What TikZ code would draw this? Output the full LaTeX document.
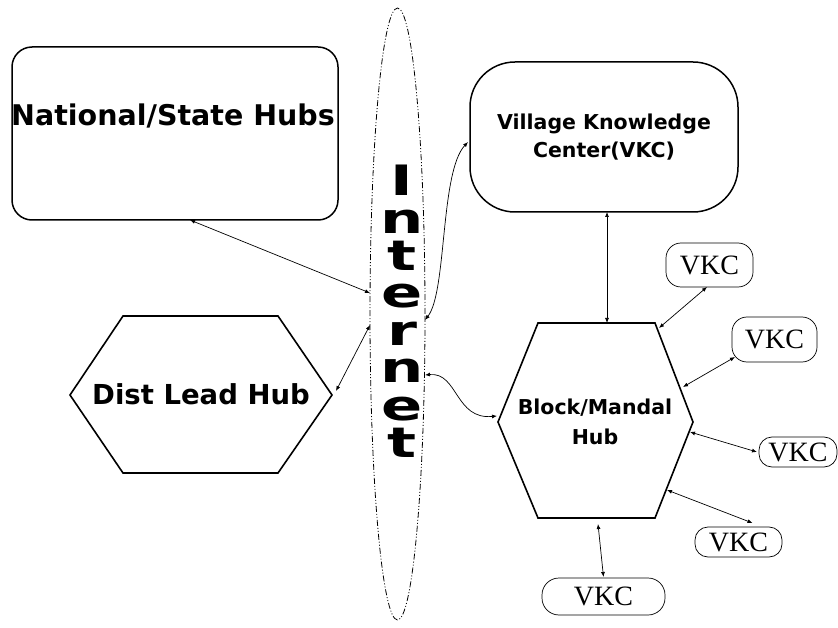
\documentclass[tikz,border=0pt]{standalone}
\usepackage{fontspec}
\usetikzlibrary{arrows.meta,shapes.geometric,calc}
\newfontfamily\hubfont{DejaVu Sans}
\newfontfamily\inetfont[FakeStretch=1.96]{DejaVu Sans}
\newfontfamily\vkcfont{Liberation Serif}
\begin{document}
\begin{tikzpicture}[x=1pt,y=-1pt,
  hubbox/.style={draw, line width=1.5pt, inner sep=0pt, outer sep=0pt},
  hubtext/.style={font=\hubfont\bfseries, inner sep=0pt, align=center},
  hexline/.style={draw, line width=1.6pt, line join=miter},
  vkcsmall/.style={draw, line width=0.7pt, inner sep=0pt, outer sep=0pt, font=\vkcfont\fontsize{28}{30}\selectfont},
  link/.style={line width=0.7pt, {Latex[length=5pt,width=4pt]}-{Latex[length=5pt,width=4pt]}},
  dashdotdot/.style={line width=0.8pt, dash pattern=on 6pt off 2pt on 1pt off 2pt on 1pt off 2pt}
]
\useasboundingbox (0,0) rectangle (838,628);
\clip (0,0) rectangle (838,628);
\fill[white] (0,0) rectangle (838,628);

% National / State hubs
\node[hubbox, rounded corners=20pt, minimum width=326pt, minimum height=173pt] (national) at (175,133.5) {};
\node[hubtext, font=\hubfont\bfseries\fontsize{28.5}{34}\selectfont] (nattext) at (173,116) {National/State Hubs};

% Village Knowledge Center
\node[hubbox, rounded corners=45pt, minimum width=268pt, minimum height=150pt,
      hubtext, font=\hubfont\bfseries\fontsize{20.5}{28}\selectfont] (vkcbig) at (604,137) {Village Knowledge\\Center(VKC)};

% Dist Lead Hub hexagon
\coordinate (dL) at (70,395);
\coordinate (dTL) at (123,316);
\coordinate (dTR) at (278,316);
\coordinate (dR) at (332,395);
\coordinate (dBR) at (278,473);
\coordinate (dBL) at (123,473);
\draw[hexline] (dL) -- (dTL) -- (dTR) -- (dR) -- (dBR) -- (dBL) -- cycle;
\node[hubtext, font=\hubfont\bfseries\fontsize{27.5}{32}\selectfont] (dist) at (201,394) {Dist Lead Hub};

% Block / Mandal Hub hexagon
\coordinate (bL) at (498,422);
\coordinate (bTL) at (538,323);
\coordinate (bTR) at (655,323);
\coordinate (bR) at (693,422);
\coordinate (bBR) at (655,518);
\coordinate (bBL) at (538,518);
\draw[hexline] (bL) -- (bTL) -- (bTR) -- (bR) -- (bBR) -- (bBL) -- cycle;
\node[hubtext, font=\hubfont\bfseries\fontsize{20.5}{30}\selectfont] (block) at (595,422) {Block/Mandal\\Hub};

% Internet ellipse
\node[ellipse, draw, dashdotdot, minimum width=55pt, minimum height=612pt, inner sep=0pt, outer sep=0pt] (inet) at (397.5,314) {};
\node[font=\inetfont\bfseries\fontsize{31}{27.7}\selectfont, align=center, inner sep=0pt, anchor=north,
      yscale=1.35, transform shape] (inettext) at (402,165) {I\\n\\t\\e\\r\\n\\e\\t};

% small VKC nodes
\node[vkcsmall, rounded corners=15pt, minimum width=87pt, minimum height=44pt] (v1) at (709.5,265) {VKC};
\node[vkcsmall, rounded corners=15pt, minimum width=85pt, minimum height=45pt] (v2) at (774.5,339.5) {VKC};
\node[vkcsmall, rounded corners=13pt, minimum width=78pt, minimum height=30pt] (v3) at (798,452) {VKC};
\node[vkcsmall, rounded corners=13pt, minimum width=87pt, minimum height=30pt] (v4) at (738.5,542) {VKC};
\node[vkcsmall, rounded corners=17pt, minimum width=123pt, minimum height=37pt] (v5) at (603.5,596.5) {VKC};

% attach points on the Block hub
\coordinate (pA) at (659,328);
\coordinate (pB) at (683,387);
\coordinate (pC) at (690,432);
\coordinate (pD) at (667,490);
\coordinate (pE) at (598,524);
\coordinate (pT) at (607,323);
\coordinate (pL) at (497,416);
\coordinate (pDist) at (336,391);

% connectors
\draw[link] ([xshift=15pt]national.south) -- ([yshift=21pt]inet.west);
\draw[link] (pDist) -- ([yshift=-11pt]inet.west);
\draw[link] ([yshift=-6pt]inet.east) .. controls (447,292) and (440,172) .. ([xshift=-2pt,yshift=-5pt]vkcbig.west);
\draw[link] ([yshift=-61pt]inet.east) .. controls (458,372) and (455,420) .. (pL);
\draw[link] ([xshift=3pt]vkcbig.south) -- (pT);
\draw[link] (pA) -- ([xshift=-2.5pt]v1.south);
\draw[link] (pB) -- ([xshift=3pt,yshift=5pt]v2.south west);
\draw[link] (pC) -- ([xshift=-2pt]v3.west);
\draw[link] (pD) -- ([xshift=14pt,yshift=4pt]v4.north);
\draw[link] (pE) -- ([yshift=1pt]v5.north);
\end{tikzpicture}
\end{document}
